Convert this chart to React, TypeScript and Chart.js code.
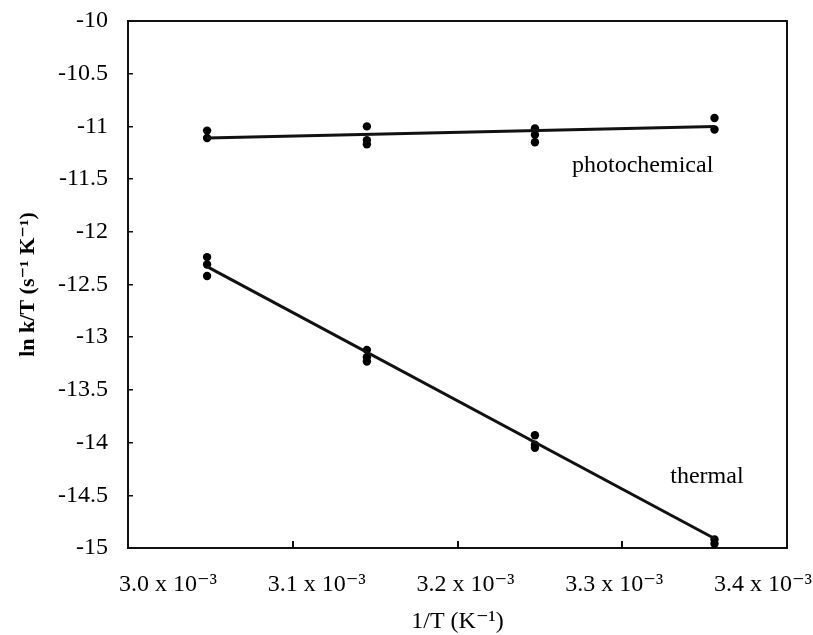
import React, { useEffect, useRef } from "react";
import { Chart, registerables } from "chart.js";

Chart.register(...registerables);

// 1/T values, in units of 10^-3 K^-1
const invTemp = [3.048, 3.145, 3.247, 3.356];

// replicate ln(k/T) measurements at each temperature
const photochemicalRuns = [
  [-11.04, -11.11],
  [-11.0, -11.13, -11.17],
  [-11.02, -11.08, -11.15],
  [-10.92, -11.03],
];
const thermalRuns = [
  [-12.24, -12.31, -12.42],
  [-13.12, -13.19, -13.23],
  [-13.93, -14.02, -14.05],
  [-14.92, -14.96],
];

// fitted lines, value at first and last temperature
const photochemicalFit = [-11.11, -11.0];
const thermalFit = [-12.33, -14.91];

const seriesNames = ["photochemical", "thermal"];

const xTickValues = [3.0, 3.1, 3.2, 3.3, 3.4];
const xTickLabels = ["3.0 x 10⁻³", "3.1 x 10⁻³", "3.2 x 10⁻³", "3.3 x 10⁻³", "3.4 x 10⁻³"];
const yTickValues = [-10, -10.5, -11, -11.5, -12, -12.5, -13, -13.5, -14, -14.5, -15];

const xTitle = "1/T (K⁻¹)";
const yTitle = "ln k/T (s⁻¹ K⁻¹)";

// placement of the in-plot series labels (data coordinates) - layout only
const seriesLabelAnchors = [
  { x: 3.3124, y: -11.433 },
  { x: 3.3514, y: -14.383 },
];
// the printed x labels sit evenly spread, slightly offset from the tick marks
const labelAxisRange = { min: 2.9731, max: 3.4161 };

const FONT = "'Liberation Serif', 'Times New Roman', 'DejaVu Serif', serif";
const INK = "#111";

function toPoints(runs: number[][]) {
  const pts: { x: number; y: number }[] = [];
  runs.forEach((vals, i) => vals.forEach((v) => pts.push({ x: invTemp[i], y: v })));
  return pts;
}

const framePlugin = {
  id: "frame",
  beforeDatasetsDraw(chart: any) {
    const { ctx, chartArea: a } = chart;
    ctx.save();
    ctx.strokeStyle = INK;
    ctx.lineWidth = 2;
    ctx.strokeRect(a.left, a.top, a.right - a.left, a.bottom - a.top);
    ctx.restore();
  },
};

const seriesLabelPlugin = {
  id: "seriesLabels",
  afterDatasetsDraw(chart: any) {
    const { ctx, scales } = chart;
    ctx.save();
    ctx.fillStyle = "#000";
    ctx.font = `24px ${FONT}`;
    ctx.textAlign = "center";
    ctx.textBaseline = "alphabetic";
    seriesNames.forEach((name, i) => {
      const p = seriesLabelAnchors[i];
      ctx.fillText(name, scales.x.getPixelForValue(p.x), scales.y.getPixelForValue(p.y));
    });
    ctx.restore();
  },
};

export default function App() {
  const canvasRef = useRef<HTMLCanvasElement | null>(null);

  useEffect(() => {
    document.body.style.margin = "0";
    const canvas = canvasRef.current;
    if (!canvas) return;

    const pointStyle = {
      showLine: false,
      pointRadius: 4.2,
      pointHoverRadius: 4.2,
      pointBackgroundColor: "#000",
      pointBorderWidth: 0,
      borderColor: "#000",
      clip: false as any,
    };
    const lineStyle = {
      showLine: true,
      pointRadius: 0,
      borderColor: INK,
      borderWidth: 3,
      clip: false as any,
    };

    const chart = new Chart(canvas, {
      type: "scatter",
      data: {
        datasets: [
          {
            label: seriesNames[0] + " fit",
            data: [
              { x: invTemp[0], y: photochemicalFit[0] },
              { x: invTemp[invTemp.length - 1], y: photochemicalFit[1] },
            ],
            ...lineStyle,
          },
          {
            label: seriesNames[1] + " fit",
            data: [
              { x: invTemp[0], y: thermalFit[0] },
              { x: invTemp[invTemp.length - 1], y: thermalFit[1] },
            ],
            ...lineStyle,
          },
          { label: seriesNames[0], data: toPoints(photochemicalRuns), ...pointStyle },
          { label: seriesNames[1], data: toPoints(thermalRuns), ...pointStyle },
        ],
      },
      options: {
        responsive: false,
        animation: false,
        layout: { padding: { top: 21, right: 26, left: 0, bottom: 0 } },
        plugins: { legend: { display: false }, tooltip: { enabled: false } },
        scales: {
          x: {
            type: "linear",
            position: "bottom",
            min: xTickValues[0],
            max: xTickValues[xTickValues.length - 1],
            afterBuildTicks: (s: any) => {
              s.ticks = xTickValues.map((v) => ({ value: v }));
            },
            afterFit: (s: any) => {
              s.height = 0;
              s.paddingLeft = 0;
              s.paddingRight = 0;
            },
            ticks: { display: false },
            grid: {
              display: true,
              drawOnChartArea: false,
              drawTicks: true,
              tickLength: -7,
              lineWidth: 2,
              color: INK,
            },
            border: { display: false },
          },
          x2: {
            type: "linear",
            position: "bottom",
            min: labelAxisRange.min,
            max: labelAxisRange.max,
            afterBuildTicks: (s: any) => {
              s.ticks = xTickValues.map((v) => ({ value: v }));
            },
            afterFit: (s: any) => {
              s.height = 87;
              s.paddingLeft = 0;
              s.paddingRight = 0;
            },
            ticks: {
              autoSkip: false,
              maxRotation: 0,
              minRotation: 0,
              padding: 14,
              color: "#000",
              font: { family: FONT, size: 24 },
              callback: (v: any) => {
                const i = xTickValues.findIndex((t) => Math.abs(t - Number(v)) < 1e-6);
                return i >= 0 ? xTickLabels[i] : "";
              },
            },
            grid: { display: false },
            border: { display: false },
            title: {
              display: true,
              text: xTitle,
              color: "#000",
              font: { family: FONT, size: 24 },
              padding: { top: 0, bottom: -1 },
            },
          },
          y: {
            type: "linear",
            position: "left",
            min: -15,
            max: -10,
            afterBuildTicks: (s: any) => {
              s.ticks = yTickValues.map((v) => ({ value: v }));
            },
            afterFit: (s: any) => {
              s.width = 128;
              s.paddingTop = 0;
              s.paddingBottom = 0;
            },
            ticks: {
              padding: 25,
              color: "#000",
              font: { family: FONT, size: 24 },
              callback: (v: any) => String(v),
            },
            grid: {
              display: true,
              drawOnChartArea: false,
              drawTicks: true,
              tickLength: -5,
              lineWidth: 1.5,
              color: INK,
            },
            border: { display: false },
            title: {
              display: true,
              text: yTitle,
              color: "#000",
              font: { family: FONT, size: 22, weight: "bold" },
              padding: { top: 15, bottom: 0 },
            },
          },
        },
      },
      plugins: [framePlugin, seriesLabelPlugin],
    });

    return () => chart.destroy();
  }, []);

  return (
    <div style={{ width: 813, height: 635, background: "#fff" }}>
      <canvas ref={canvasRef} width={813} height={635} style={{ display: "block" }} />
    </div>
  );
}
